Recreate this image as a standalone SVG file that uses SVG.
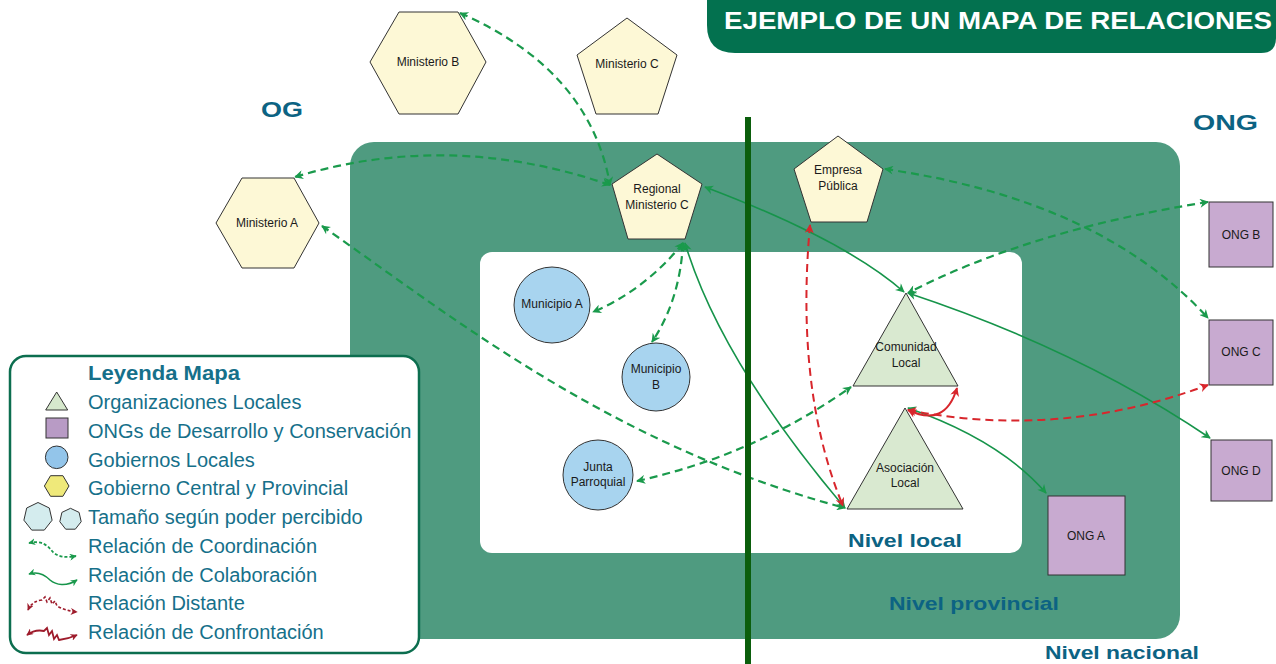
<svg xmlns="http://www.w3.org/2000/svg" width="1276" height="664" viewBox="0 0 1276 664">
<style>
.node{stroke:#333;stroke-width:1}
.gov{fill:#fdf8d6}
.mun{fill:#a8d4ef}
.loc{fill:#d9e9d0}
.ong{fill:#c8aad0}
.nt{font-family:"Liberation Sans",Arial,sans-serif;font-size:12px;fill:#1a1a1a;text-anchor:middle}
.lvl{font-family:"Liberation Sans",Arial,sans-serif;font-weight:bold;fill:#0c6383}
.leg{font-family:"Liberation Sans",Arial,sans-serif;font-size:20px;fill:#16708a}
.coord{fill:none;stroke:#1a9a4c;stroke-width:2.2;stroke-dasharray:8 5;marker-start:url(#ag);marker-end:url(#ag)}
.colab{fill:none;stroke:#16944a;stroke-width:1.6;marker-start:url(#ag);marker-end:url(#ag)}
.dist{fill:none;stroke:#d8262c;stroke-width:2;stroke-dasharray:8 5;marker-start:url(#ar);marker-end:url(#ar)}
.conf{fill:none;stroke:#d8262c;stroke-width:2;marker-start:url(#ar);marker-end:url(#ar)}
</style>
<defs>
<marker id="ag" viewBox="0 0 10 10" refX="9" refY="5" markerWidth="10" markerHeight="9" markerUnits="userSpaceOnUse" orient="auto-start-reverse"><path d="M0,0 L10,5 L0,10 L3,5 z" fill="#1a9a4c"/></marker>
<marker id="ar" viewBox="0 0 10 10" refX="9" refY="5" markerWidth="10" markerHeight="9" markerUnits="userSpaceOnUse" orient="auto-start-reverse"><path d="M0,0 L10,5 L0,10 L3,5 z" fill="#d8262c"/></marker>
<marker id="lg" viewBox="0 0 10 10" refX="9" refY="5" markerWidth="7" markerHeight="7" markerUnits="userSpaceOnUse" orient="auto-start-reverse"><path d="M0,0 L10,5 L0,10 L3,5 z" fill="#1a9a4c"/></marker>
<marker id="lr" viewBox="0 0 10 10" refX="9" refY="5" markerWidth="7" markerHeight="7" markerUnits="userSpaceOnUse" orient="auto-start-reverse"><path d="M0,0 L10,5 L0,10 L3,5 z" fill="#9e1c2c"/></marker>
</defs>
<rect width="1276" height="664" fill="#ffffff"/>
<g id="title">
<path d="M707,0 H1276 V38 Q1276,53 1261,53 H735 Q707,53 707,25 Z" fill="#03714f"/>
<text x="724" y="29" font-family="Liberation Sans,Arial,sans-serif" font-weight="bold" font-size="23" fill="#ffffff" textLength="548" lengthAdjust="spacingAndGlyphs">EJEMPLO DE UN MAPA DE RELACIONES</text>
</g>
<g id="levels">
<rect x="350" y="142" width="830" height="497" rx="24" fill="#4f9b80"/>
<rect x="480" y="252" width="542" height="301" rx="12" fill="#ffffff"/>
<text class="lvl" x="848" y="547" font-size="19" textLength="114" lengthAdjust="spacingAndGlyphs">Nivel local</text>
<text class="lvl" x="889" y="610" font-size="19" textLength="170" lengthAdjust="spacingAndGlyphs">Nivel provincial</text>
<text class="lvl" x="1045" y="659" font-size="19" textLength="154" lengthAdjust="spacingAndGlyphs">Nivel nacional</text>
<text class="lvl" x="261" y="117" font-size="22" textLength="42" lengthAdjust="spacingAndGlyphs">OG</text>
<text class="lvl" x="1193" y="130" font-size="22" textLength="65" lengthAdjust="spacingAndGlyphs">ONG</text>
</g>
<g id="connectors">
<path class="coord" d="M460,13 Q590,70 610,185"/>
<path class="coord" d="M610,185 Q450,130 295,177"/>
<path class="coord" d="M322,226 C450,315 610,445 845,508"/>
<path class="coord" d="M683,243 Q645,290 593,312"/>
<path class="coord" d="M683,243 Q680,300 652,342"/>
<path class="colab" d="M685,243 Q720,360 845,508"/>
<path class="colab" d="M705,187 Q845,240 904,292"/>
<path class="coord" d="M885,169 Q1100,200 1208,318"/>
<path class="coord" d="M1208,202 Q1030,230 908,293"/>
<path class="colab" d="M908,293 Q1080,350 1210,438"/>
<path class="colab" d="M908,408 Q1000,440 1046,493"/>
<path class="dist" d="M908,410 Q1060,440 1208,385"/>
<path class="conf" d="M908,410 Q945,428 957,388"/>
<path class="dist" d="M810,225 Q795,390 843,506"/>
<path class="coord" d="M637,481 Q755,455 851,387"/>
</g>
<rect id="divider" x="745" y="117" width="6" height="547" fill="#0b5e0c"/>
<g id="ministerio-b">
<polygon class="node gov" points="370,62 399,12 458,12 486,62 458,114 399,114"/>
<text class="nt" x="428" y="66">Ministerio B</text>
</g>
<g id="ministerio-c">
<polygon class="node gov" points="627,18 677,55 658,114 596,114 577,55"/>
<text class="nt" x="627" y="68">Ministerio C</text>
</g>
<g id="ministerio-a">
<polygon class="node gov" points="216,223 242,178 294,178 319,223 294,268 242,268"/>
<text class="nt" x="267" y="227" font-size="13">Ministerio A</text>
</g>
<g id="regional-ministerio-c">
<polygon class="node gov" points="657,154 702,184 685,239 628,239 612,184"/>
<text class="nt" x="657" y="193" font-size="13">Regional</text>
<text class="nt" x="657" y="209" font-size="13">Ministerio C</text>
</g>
<g id="empresa-publica">
<polygon class="node gov" points="838,136 883,169 867,222 811,222 794,169"/>
<text class="nt" x="838" y="174">Empresa</text>
<text class="nt" x="838" y="190">Pública</text>
</g>
<g id="municipio-a">
<circle class="node mun" cx="552" cy="305" r="38"/>
<text class="nt" x="552" y="308">Municipio A</text>
</g>
<g id="municipio-b">
<circle class="node mun" cx="656" cy="377" r="34"/>
<text class="nt" x="656" y="373">Municipio</text>
<text class="nt" x="656" y="389">B</text>
</g>
<g id="junta-parroquial">
<circle class="node mun" cx="598" cy="475" r="35"/>
<text class="nt" x="598" y="471">Junta</text>
<text class="nt" x="598" y="486">Parroquial</text>
</g>
<g id="comunidad-local">
<polygon class="node loc" points="906,293 958,386 853,386"/>
<text class="nt" x="906" y="351">Comunidad</text>
<text class="nt" x="906" y="367">Local</text>
</g>
<g id="asociacion-local">
<polygon class="node loc" points="905,408 963,509 847,509"/>
<text class="nt" x="905" y="472">Asociación</text>
<text class="nt" x="905" y="487">Local</text>
</g>
<g id="ong-a">
<rect class="node ong" x="1048" y="496" width="77" height="79"/>
<text class="nt" x="1086" y="540" font-size="13">ONG A</text>
</g>
<g id="ong-b">
<rect class="node ong" x="1209" y="202" width="64" height="65"/>
<text class="nt" x="1241" y="239" font-size="13">ONG B</text>
</g>
<g id="ong-c">
<rect class="node ong" x="1209" y="320" width="64" height="65"/>
<text class="nt" x="1241" y="356" font-size="13">ONG C</text>
</g>
<g id="ong-d">
<rect class="node ong" x="1211" y="440" width="61" height="61"/>
<text class="nt" x="1241" y="475" font-size="13">ONG D</text>
</g>
<g id="legend">
<rect x="10" y="356" width="409" height="297" rx="16" fill="#ffffff" stroke="#0c6e4f" stroke-width="2.5"/>
<text class="leg" x="88" y="380" font-weight="bold" fill="#0c6383" textLength="152" lengthAdjust="spacingAndGlyphs">Leyenda Mapa</text>
<polygon class="node" fill="#d6e8cc" points="56.7,392 67.7,410 45.7,410"/>
<text class="leg" x="88" y="409">Organizaciones Locales</text>
<rect class="node" fill="#b89bc5" x="46" y="418" width="22" height="20"/>
<text class="leg" x="88" y="438">ONGs de Desarrollo y Conservación</text>
<circle class="node" fill="#93c5ea" cx="56.7" cy="457.3" r="11.3"/>
<text class="leg" x="88" y="467">Gobiernos Locales</text>
<polygon class="node" fill="#efe97a" points="44.4,486 50.5,475.7 62.9,475.7 69,486 62.9,496.3 50.5,496.3"/>
<text class="leg" x="88" y="495">Gobierno Central y Provincial</text>
<polygon class="node" fill="#d4ecee" points="38,502.5 49.3,508 52.1,520.2 44.3,530.1 31.7,530.1 23.9,520.2 26.7,508"/>
<polygon class="node" fill="#d4ecee" points="70.5,508.3 79.1,512.4 81.2,521.7 75.3,529.2 65.7,529.2 59.8,521.7 61.9,512.4"/>
<text class="leg" x="88" y="524">Tamaño según poder percibido</text>
<path d="M29,543 C42,540 48,546 52,551 C57,557 66,558 76,556" fill="none" stroke="#1a9a4c" stroke-width="1.8" stroke-dasharray="3 2" marker-start="url(#lg)" marker-end="url(#lg)"/>
<text class="leg" x="88" y="553">Relación de Coordinación</text>
<path d="M29,574 C38,571 44,574 50,580 C56,585 66,587 77,580" fill="none" stroke="#16944a" stroke-width="1.6" marker-start="url(#lg)" marker-end="url(#lg)"/>
<text class="leg" x="88" y="582">Relación de Colaboración</text>
<path d="M28,610 Q32,601 42,600 L45,597 L47,602 L50,598 L52,604 L55,601 L57,606 Q66,611 77,612" fill="none" stroke="#9e1c2c" stroke-width="1.6" stroke-dasharray="3 2" marker-start="url(#lr)" marker-end="url(#lr)"/>
<text class="leg" x="88" y="610">Relación Distante</text>
<path d="M27,635 Q35,629 44,631 L47,628 L49,635 L52,631 L54,639 L57,635 L59,640 Q68,639 77,635" fill="none" stroke="#9e1c2c" stroke-width="1.8" marker-start="url(#lr)" marker-end="url(#lr)"/>
<text class="leg" x="88" y="639">Relación de Confrontación</text>
</g>
</svg>
